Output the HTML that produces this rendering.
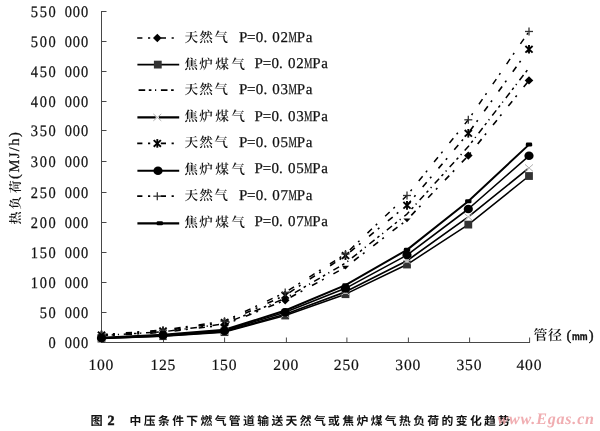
<!DOCTYPE html>
<html><head><meta charset="utf-8"><style>
html,body{margin:0;padding:0;background:#fff;}
body{width:600px;height:431px;position:relative;overflow:hidden;}
svg{position:absolute;left:0;top:0;will-change:transform;}
text{text-rendering:geometricPrecision;}
</style></head><body>
<svg width="600" height="431" viewBox="0 0 600 431">
<g stroke="#484848" stroke-width="1" fill="none">
<line x1="101.5" y1="11" x2="101.5" y2="342.5"/>
<line x1="101" y1="342.5" x2="530" y2="342.5"/>
<line x1="101" y1="312.5" x2="106.5" y2="312.5"/>
<line x1="101" y1="282.5" x2="106.5" y2="282.5"/>
<line x1="101" y1="252.5" x2="106.5" y2="252.5"/>
<line x1="101" y1="222.5" x2="106.5" y2="222.5"/>
<line x1="101" y1="192.5" x2="106.5" y2="192.5"/>
<line x1="101" y1="161.5" x2="106.5" y2="161.5"/>
<line x1="101" y1="130.5" x2="106.5" y2="130.5"/>
<line x1="101" y1="101.5" x2="106.5" y2="101.5"/>
<line x1="101" y1="71.5" x2="106.5" y2="71.5"/>
<line x1="101" y1="41.5" x2="106.5" y2="41.5"/>
<line x1="101" y1="11.5" x2="106.5" y2="11.5"/>
<line x1="163.5" y1="337.5" x2="163.5" y2="342.5"/>
<line x1="224.6" y1="337.5" x2="224.6" y2="342.5"/>
<line x1="286.4" y1="337.5" x2="286.4" y2="342.5"/>
<line x1="346.9" y1="337.5" x2="346.9" y2="342.5"/>
<line x1="408.4" y1="337.5" x2="408.4" y2="342.5"/>
<line x1="469.6" y1="337.5" x2="469.6" y2="342.5"/>
<line x1="529.6" y1="337.5" x2="529.6" y2="342.5"/>
</g>
<g font-family="Liberation Serif, serif" font-size="16" fill="#111" stroke="#111" stroke-width="0.25" text-anchor="middle" transform="scale(0.9,1)">
<text x="58 67 75.89 84.94 94" y="348.1">0 000</text>
<text x="48.11 58 67 75.89 84.94 94" y="318.1">50 000</text>
<text x="38.22 48.11 58 67 75.89 84.94 94" y="288.1">100 000</text>
<text x="38.22 48.11 58 67 75.89 84.94 94" y="258.1">150 000</text>
<text x="38.22 48.11 58 67 75.89 84.94 94" y="228.1">200 000</text>
<text x="38.22 48.11 58 67 75.89 84.94 94" y="198.1">250 000</text>
<text x="38.22 48.11 58 67 75.89 84.94 94" y="167.1">300 000</text>
<text x="38.22 48.11 58 67 75.89 84.94 94" y="136.1">350 000</text>
<text x="38.22 48.11 58 67 75.89 84.94 94" y="107.1">400 000</text>
<text x="38.22 48.11 58 67 75.89 84.94 94" y="77.1">450 000</text>
<text x="38.22 48.11 58 67 75.89 84.94 94" y="47.1">500 000</text>
<text x="38.22 48.11 58 67 75.89 84.94 94" y="17.1">550 000</text>
</g>
<g font-family="Liberation Serif, serif" font-size="15.6" fill="#111" stroke="#111" stroke-width="0.2" text-anchor="middle">
<text x="92.3 100.9 109.5" y="369.9">100</text>
<text x="154.3 162.9 171.5" y="369.9">125</text>
<text x="215.4 224 232.6" y="369.9">150</text>
<text x="277.2 285.8 294.4" y="369.9">200</text>
<text x="337.7 346.3 354.9" y="369.9">250</text>
<text x="399.2 407.8 416.4" y="369.9">300</text>
<text x="460.4 469 477.6" y="369.9">350</text>
<text x="520.4 529 537.6" y="369.9">400</text>
</g>
<g transform="translate(20.3,0) rotate(-90)" fill="#111">
<text x="-218.1 -202.9 -186.7" y="0" text-anchor="middle" font-family="Noto Serif CJK SC, serif" font-weight="600" font-size="13">热负荷</text>
<text x="-178.9" y="-1.6" font-family="Liberation Serif, serif" font-size="14.5" letter-spacing="1.45" stroke="#111" stroke-width="0.3">(MJ/h)</text>
</g>
<text x="533.4" y="339.6" font-family="Noto Serif CJK SC, serif" font-weight="600" font-size="14" fill="#111" letter-spacing="0.6">管径</text>
<text x="566.5" y="340" font-family="Liberation Serif, serif" font-size="14.5" fill="#111" stroke="#111" stroke-width="0.4">(</text>
<text x="571.9" y="340.2" font-family="Liberation Sans, sans-serif" font-weight="bold" font-size="10.8" fill="#111" stroke="#111" stroke-width="0.35" textLength="15.6" lengthAdjust="spacingAndGlyphs">mm</text>
<text x="588.8" y="340" font-family="Liberation Serif, serif" font-size="14.5" fill="#111" stroke="#111" stroke-width="0.4">)</text>
<polyline points="101.5,335.84 163,332.38 224.5,324.82 285.2,300.26 345.5,267.2 407,219.88 468.3,155.6 529,80.4" fill="none" stroke="#000" stroke-width="1.6" stroke-dasharray="6.2 5.2 2 11" stroke-linejoin="round"/>
<polyline points="101.5,335.52 163,331.8 224.5,323.89 285.2,298.28 345.5,263.05 407,214.06 468.3,146.6 529,67.94" fill="none" stroke="#000" stroke-width="1.5" stroke-dasharray="6.6 3.6 2.6 3.6 1.2 4.7" stroke-linejoin="round"/>
<polyline points="101.5,335.05 163,330.95 224.5,322.5 285.2,295.3 345.5,255.6 407,205.35 468.3,133.3 529,49.28" fill="none" stroke="#000" stroke-width="1.6" stroke-dasharray="6.2 5.2 2 11" stroke-linejoin="round"/>
<polyline points="101.5,334.6 163,330.13 224.5,321.17 285.2,292.46 345.5,254 407,195.5 468.3,119.8 529,31.47" fill="none" stroke="#000" stroke-width="1.5" stroke-dasharray="6.2 5.2 2 11" stroke-linejoin="round"/>
<polyline points="101.5,338.58 163,336.17 224.5,332.14 285.2,315.52 345.5,294.19 407,264.52 468.3,224.6 529,176.02" fill="none" stroke="#000" stroke-width="1.5" stroke-linejoin="round"/>
<polyline points="101.5,338.37 163,335.8 224.5,331.53 285.2,314.22 345.5,291.85 407,260.72 468.3,216.9 529,167.9" fill="none" stroke="#000" stroke-width="1.7" stroke-linejoin="round"/>
<polyline points="101.5,338.06 163,335.24 224.5,330.63 285.2,312.29 345.5,288.36 407,255.08 468.3,209 529,155.8" fill="none" stroke="#000" stroke-width="1.6" stroke-linejoin="round"/>
<polyline points="101.5,337.78 163,334.73 224.5,329.8 285.2,310.51 345.5,285.14 407,249.85 468.3,201.2 529,144.61" fill="none" stroke="#000" stroke-width="2.0" stroke-linejoin="round"/>
<path d="M97.2,335.84 L101.5,331.64 L105.8,335.84 L101.5,340.04 Z" fill="#000"/>
<path d="M158.7,332.38 L163,328.18 L167.3,332.38 L163,336.58 Z" fill="#000"/>
<path d="M220.2,324.82 L224.5,320.62 L228.8,324.82 L224.5,329.02 Z" fill="#000"/>
<path d="M280.9,300.26 L285.2,296.06 L289.5,300.26 L285.2,304.46 Z" fill="#000"/>
<path d="M341.9,265.8 L349.1,265.8 L345.5,269.6 Z" fill="#000"/>
<path d="M403.4,218.48 L410.6,218.48 L407,222.28 Z" fill="#000"/>
<path d="M464,155.6 L468.3,151.4 L472.6,155.6 L468.3,159.8 Z" fill="#000"/>
<path d="M524.7,80.4 L529,76.2 L533.3,80.4 L529,84.6 Z" fill="#000"/>








<g stroke="#000" stroke-width="1.9"><line x1="97.9" y1="331.75" x2="105.1" y2="338.35"/><line x1="97.9" y1="338.35" x2="105.1" y2="331.75"/><line x1="101.5" y1="330.75" x2="101.5" y2="339.35"/></g>
<g stroke="#000" stroke-width="1.9"><line x1="159.4" y1="327.65" x2="166.6" y2="334.25"/><line x1="159.4" y1="334.25" x2="166.6" y2="327.65"/><line x1="163" y1="326.65" x2="163" y2="335.25"/></g>
<g stroke="#000" stroke-width="1.9"><line x1="220.9" y1="319.2" x2="228.1" y2="325.8"/><line x1="220.9" y1="325.8" x2="228.1" y2="319.2"/><line x1="224.5" y1="318.2" x2="224.5" y2="326.8"/></g>
<g stroke="#000" stroke-width="1.9"><line x1="281.6" y1="292" x2="288.8" y2="298.6"/><line x1="281.6" y1="298.6" x2="288.8" y2="292"/><line x1="285.2" y1="291" x2="285.2" y2="299.6"/></g>
<g stroke="#000" stroke-width="1.9"><line x1="341.9" y1="252.3" x2="349.1" y2="258.9"/><line x1="341.9" y1="258.9" x2="349.1" y2="252.3"/><line x1="345.5" y1="251.3" x2="345.5" y2="259.9"/></g>
<g stroke="#000" stroke-width="1.9"><line x1="403.4" y1="202.05" x2="410.6" y2="208.65"/><line x1="403.4" y1="208.65" x2="410.6" y2="202.05"/><line x1="407" y1="201.05" x2="407" y2="209.65"/></g>
<g stroke="#000" stroke-width="1.9"><line x1="464.7" y1="130" x2="471.9" y2="136.6"/><line x1="464.7" y1="136.6" x2="471.9" y2="130"/><line x1="468.3" y1="129" x2="468.3" y2="137.6"/></g>
<g stroke="#000" stroke-width="1.9"><line x1="525.4" y1="45.98" x2="532.6" y2="52.58"/><line x1="525.4" y1="52.58" x2="532.6" y2="45.98"/><line x1="529" y1="44.98" x2="529" y2="53.58"/></g>
<g stroke="#333" stroke-width="1.3"><line x1="97.5" y1="334.6" x2="105.5" y2="334.6"/><line x1="101.5" y1="330.6" x2="101.5" y2="338.6"/></g>
<g stroke="#333" stroke-width="1.3"><line x1="159" y1="330.13" x2="167" y2="330.13"/><line x1="163" y1="326.13" x2="163" y2="334.13"/></g>
<g stroke="#333" stroke-width="1.3"><line x1="220.5" y1="321.17" x2="228.5" y2="321.17"/><line x1="224.5" y1="317.17" x2="224.5" y2="325.17"/></g>
<g stroke="#333" stroke-width="1.3"><line x1="281.2" y1="292.46" x2="289.2" y2="292.46"/><line x1="285.2" y1="288.46" x2="285.2" y2="296.46"/></g>
<g stroke="#333" stroke-width="1.3"><line x1="341.5" y1="254" x2="349.5" y2="254"/><line x1="345.5" y1="250" x2="345.5" y2="258"/></g>
<g stroke="#333" stroke-width="1.3"><line x1="403" y1="195.5" x2="411" y2="195.5"/><line x1="407" y1="191.5" x2="407" y2="199.5"/></g>
<g stroke="#333" stroke-width="1.3"><line x1="464.3" y1="119.8" x2="472.3" y2="119.8"/><line x1="468.3" y1="115.8" x2="468.3" y2="123.8"/></g>
<g stroke="#333" stroke-width="1.3"><line x1="525" y1="31.47" x2="533" y2="31.47"/><line x1="529" y1="27.47" x2="529" y2="35.47"/></g>
<rect x="97.6" y="334.68" width="7.8" height="7.8" fill="#333"/>
<rect x="159.1" y="332.27" width="7.8" height="7.8" fill="#333"/>
<rect x="220.6" y="328.24" width="7.8" height="7.8" fill="#333"/>
<rect x="281.3" y="311.62" width="7.8" height="7.8" fill="#333"/>
<rect x="341.6" y="290.29" width="7.8" height="7.8" fill="#333"/>
<rect x="403.1" y="260.62" width="7.8" height="7.8" fill="#333"/>
<rect x="464.4" y="220.7" width="7.8" height="7.8" fill="#333"/>
<rect x="525.1" y="172.12" width="7.8" height="7.8" fill="#333"/>
<rect x="99.9" y="336.57" width="3.2" height="3.6" fill="#fff"/><g stroke="#b0b0b0" stroke-width="1"><line x1="97.5" y1="334.87" x2="105.5" y2="341.87"/><line x1="97.5" y1="341.87" x2="105.5" y2="334.87"/></g>
<rect x="161.4" y="334" width="3.2" height="3.6" fill="#fff"/><g stroke="#b0b0b0" stroke-width="1"><line x1="159" y1="332.3" x2="167" y2="339.3"/><line x1="159" y1="339.3" x2="167" y2="332.3"/></g>
<rect x="222.9" y="329.73" width="3.2" height="3.6" fill="#fff"/><g stroke="#b0b0b0" stroke-width="1"><line x1="220.5" y1="328.03" x2="228.5" y2="335.03"/><line x1="220.5" y1="335.03" x2="228.5" y2="328.03"/></g>
<rect x="283.6" y="312.42" width="3.2" height="3.6" fill="#fff"/><g stroke="#b0b0b0" stroke-width="1"><line x1="281.2" y1="310.72" x2="289.2" y2="317.72"/><line x1="281.2" y1="317.72" x2="289.2" y2="310.72"/></g>
<rect x="343.9" y="290.05" width="3.2" height="3.6" fill="#fff"/><g stroke="#b0b0b0" stroke-width="1"><line x1="341.5" y1="288.35" x2="349.5" y2="295.35"/><line x1="341.5" y1="295.35" x2="349.5" y2="288.35"/></g>
<rect x="405.4" y="258.92" width="3.2" height="3.6" fill="#fff"/><g stroke="#b0b0b0" stroke-width="1"><line x1="403" y1="257.22" x2="411" y2="264.22"/><line x1="403" y1="264.22" x2="411" y2="257.22"/></g>
<rect x="466.7" y="215.1" width="3.2" height="3.6" fill="#fff"/><g stroke="#b0b0b0" stroke-width="1"><line x1="464.3" y1="213.4" x2="472.3" y2="220.4"/><line x1="464.3" y1="220.4" x2="472.3" y2="213.4"/></g>
<rect x="527.4" y="166.1" width="3.2" height="3.6" fill="#fff"/><g stroke="#b0b0b0" stroke-width="1"><line x1="525" y1="164.4" x2="533" y2="171.4"/><line x1="525" y1="171.4" x2="533" y2="164.4"/></g>
<ellipse cx="101.5" cy="338.06" rx="4.6" ry="4.3" fill="#000"/>
<ellipse cx="163" cy="335.24" rx="4.6" ry="4.3" fill="#000"/>
<ellipse cx="224.5" cy="330.63" rx="4.6" ry="4.3" fill="#000"/>
<ellipse cx="285.2" cy="312.29" rx="4.6" ry="4.3" fill="#000"/>
<ellipse cx="345.5" cy="288.36" rx="4.6" ry="4.3" fill="#000"/>
<ellipse cx="407" cy="255.08" rx="4.6" ry="4.3" fill="#000"/>
<ellipse cx="468.3" cy="209" rx="4.6" ry="4.3" fill="#000"/>
<ellipse cx="529" cy="155.8" rx="4.6" ry="4.3" fill="#000"/>
<rect x="98.3" y="335.78" width="6.4" height="4" rx="1.3" fill="#000"/>
<rect x="159.8" y="332.73" width="6.4" height="4" rx="1.3" fill="#000"/>
<rect x="221.3" y="327.8" width="6.4" height="4" rx="1.3" fill="#000"/>
<rect x="282" y="308.51" width="6.4" height="4" rx="1.3" fill="#000"/>
<rect x="342.3" y="283.14" width="6.4" height="4" rx="1.3" fill="#000"/>
<rect x="403.8" y="247.85" width="6.4" height="4" rx="1.3" fill="#000"/>
<rect x="465.1" y="199.2" width="6.4" height="4" rx="1.3" fill="#000"/>
<rect x="525.8" y="142.61" width="6.4" height="4" rx="1.3" fill="#000"/>
<line x1="137.2" y1="38" x2="174.2" y2="38" stroke="#000" stroke-width="1.7" stroke-dasharray="5.2 5.6 2.2 10.6"/>
<path d="M153,38 L157.3,33.8 L161.6,38 L157.3,42.2 Z" fill="#000"/>
<text x="191.2 206.1 221.1" y="42" text-anchor="middle" font-family="Noto Serif CJK SC, serif" font-weight="600" font-size="13.6" fill="#111">天然气</text>
<text x="243.1 251.35 259.6 265.25 276.1 284.35" y="41.8" text-anchor="middle" font-family="Liberation Serif, serif" font-size="15" fill="#111" stroke="#111" stroke-width="0.25">P=0.02<tspan x="292.6" textLength="8.4" lengthAdjust="spacingAndGlyphs">M</tspan><tspan x="300.85 309.1">Pa</tspan></text>
<line x1="137.4" y1="64.6" x2="179.2" y2="64.6" stroke="#000" stroke-width="1.9"/>
<rect x="153.9" y="60.7" width="7.8" height="7.8" fill="#333"/>
<text x="191.1 206.1 222 238" y="68.6" text-anchor="middle" font-family="Noto Serif CJK SC, serif" font-weight="600" font-size="13.6" fill="#111">焦炉煤气</text>
<text x="258.7 266.95 275.2 280.85 291.7 299.95" y="68.4" text-anchor="middle" font-family="Liberation Serif, serif" font-size="15" fill="#111" stroke="#111" stroke-width="0.25">P=0.02<tspan x="308.2" textLength="8.4" lengthAdjust="spacingAndGlyphs">M</tspan><tspan x="316.45 324.7">Pa</tspan></text>
<line x1="138.6" y1="90.2" x2="174.2" y2="90.2" stroke="#000" stroke-width="1.7" stroke-dasharray="6.6 3.6 2.6 3.6 1.2 4.7"/>

<text x="191.2 206.1 221.1" y="94.3" text-anchor="middle" font-family="Noto Serif CJK SC, serif" font-weight="600" font-size="13.6" fill="#111">天然气</text>
<text x="243.1 251.35 259.6 265.25 276.1 284.35" y="94.1" text-anchor="middle" font-family="Liberation Serif, serif" font-size="15" fill="#111" stroke="#111" stroke-width="0.25">P=0.03<tspan x="292.6" textLength="8.4" lengthAdjust="spacingAndGlyphs">M</tspan><tspan x="300.85 309.1">Pa</tspan></text>
<line x1="137.4" y1="117.4" x2="179.2" y2="117.4" stroke="#000" stroke-width="2.2"/>
<rect x="155.7" y="115.6" width="3.2" height="3.6" fill="#fff"/><g stroke="#b0b0b0" stroke-width="1"><line x1="153.3" y1="113.9" x2="161.3" y2="120.9"/><line x1="153.3" y1="120.9" x2="161.3" y2="113.9"/></g>
<text x="191.1 206.1 222 238" y="121.15" text-anchor="middle" font-family="Noto Serif CJK SC, serif" font-weight="600" font-size="13.6" fill="#111">焦炉煤气</text>
<text x="258.7 266.95 275.2 280.85 291.7 299.95" y="120.95" text-anchor="middle" font-family="Liberation Serif, serif" font-size="15" fill="#111" stroke="#111" stroke-width="0.25">P=0.03<tspan x="308.2" textLength="8.4" lengthAdjust="spacingAndGlyphs">M</tspan><tspan x="316.45 324.7">Pa</tspan></text>
<line x1="137.2" y1="143.4" x2="174.2" y2="143.4" stroke="#000" stroke-width="1.7" stroke-dasharray="5.2 5.6 2.2 10.6"/>
<g stroke="#000" stroke-width="1.9"><line x1="153.7" y1="140.1" x2="160.9" y2="146.7"/><line x1="153.7" y1="146.7" x2="160.9" y2="140.1"/><line x1="157.3" y1="139.1" x2="157.3" y2="147.7"/></g>
<text x="191.2 206.1 221.1" y="146.8" text-anchor="middle" font-family="Noto Serif CJK SC, serif" font-weight="600" font-size="13.6" fill="#111">天然气</text>
<text x="243.1 251.35 259.6 265.25 276.1 284.35" y="146.6" text-anchor="middle" font-family="Liberation Serif, serif" font-size="15" fill="#111" stroke="#111" stroke-width="0.25">P=0.05<tspan x="292.6" textLength="8.4" lengthAdjust="spacingAndGlyphs">M</tspan><tspan x="300.85 309.1">Pa</tspan></text>
<line x1="137.4" y1="170.8" x2="179.2" y2="170.8" stroke="#000" stroke-width="1.9"/>
<ellipse cx="158" cy="170.8" rx="4.6" ry="4.3" fill="#000"/>
<text x="191.1 206.1 222 238" y="173.5" text-anchor="middle" font-family="Noto Serif CJK SC, serif" font-weight="600" font-size="13.6" fill="#111">焦炉煤气</text>
<text x="258.7 266.95 275.2 280.85 291.7 299.95" y="173.3" text-anchor="middle" font-family="Liberation Serif, serif" font-size="15" fill="#111" stroke="#111" stroke-width="0.25">P=0.05<tspan x="308.2" textLength="8.4" lengthAdjust="spacingAndGlyphs">M</tspan><tspan x="316.45 324.7">Pa</tspan></text>
<line x1="137.2" y1="196.2" x2="174.2" y2="196.2" stroke="#000" stroke-width="1.7" stroke-dasharray="5.2 5.6 2.2 10.6"/>
<g stroke="#333" stroke-width="1.3"><line x1="153.3" y1="196.2" x2="161.3" y2="196.2"/><line x1="157.3" y1="192.2" x2="157.3" y2="200.2"/></g>
<text x="191.2 206.1 221.1" y="200.4" text-anchor="middle" font-family="Noto Serif CJK SC, serif" font-weight="600" font-size="13.6" fill="#111">天然气</text>
<text x="243.1 251.35 259.6 265.25 276.1 284.35" y="200.2" text-anchor="middle" font-family="Liberation Serif, serif" font-size="15" fill="#111" stroke="#111" stroke-width="0.25">P=0.07<tspan x="292.6" textLength="8.4" lengthAdjust="spacingAndGlyphs">M</tspan><tspan x="300.85 309.1">Pa</tspan></text>
<line x1="137.4" y1="223.3" x2="179.2" y2="223.3" stroke="#000" stroke-width="2.2"/>
<rect x="156.6" y="221.3" width="6.4" height="4" rx="1.3" fill="#000"/>
<text x="191.1 206.1 222 238" y="226.5" text-anchor="middle" font-family="Noto Serif CJK SC, serif" font-weight="600" font-size="13.6" fill="#111">焦炉煤气</text>
<text x="258.7 266.95 275.2 280.85 291.7 299.95" y="226.3" text-anchor="middle" font-family="Liberation Serif, serif" font-size="15" fill="#111" stroke="#111" stroke-width="0.25">P=0.07<tspan x="308.2" textLength="8.4" lengthAdjust="spacingAndGlyphs">M</tspan><tspan x="316.45 324.7">Pa</tspan></text>
<text x="90.6" y="424.8" font-family="Noto Sans CJK SC, sans-serif" font-size="12.2" font-weight="bold" fill="#111">图</text>
<text x="107.5" y="425.3" font-family="Liberation Serif, serif" font-size="14" font-weight="bold" fill="#111" stroke="#111" stroke-width="0.5">2</text>
<text x="135.5 149.68 163.86 178.04 192.22 206.4 220.58 234.76 248.94 263.12 277.3 291.48 305.66 319.84 334.02 348.2 362.38 376.56 390.74 404.92 419.1 433.28 447.46 461.64 475.82 490 504.18" y="424.6" text-anchor="middle" font-family="Noto Sans CJK SC, sans-serif" font-size="11.8" font-weight="bold" fill="#111">中压条件下燃气管道输送天然气或焦炉煤气热负荷的变化趋势</text>
<text x="497.5" y="424.3" font-family="Liberation Serif, serif" font-style="italic" font-weight="bold" font-size="16" fill="#efa6aa" fill-opacity="0.92" textLength="96.5" lengthAdjust="spacing">www.Egas.cn</text>
</svg>
</body></html>
